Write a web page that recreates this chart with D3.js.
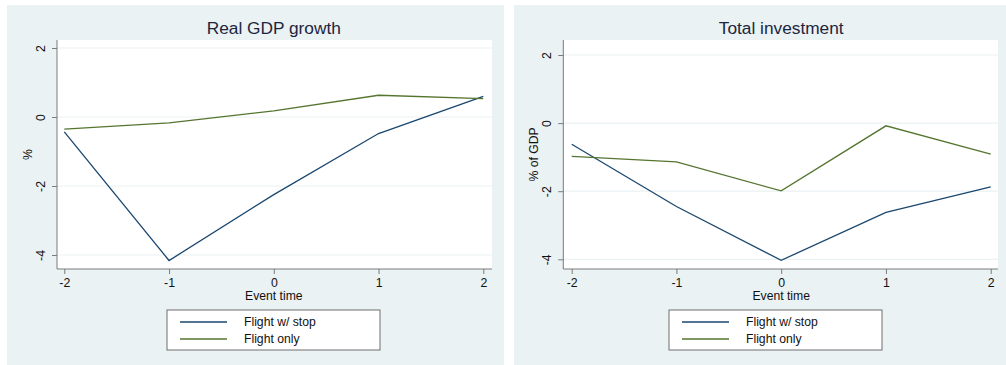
<!DOCTYPE html>
<html>
<head>
<meta charset="utf-8">
<script src="https://cdn.jsdelivr.net/npm/d3@7"></script>
<style>
  html, body { margin: 0; padding: 0; background: #ffffff; }
  svg { display: block; font-family: "Liberation Sans", Arial, sans-serif; }
</style>
</head>
<body>
<svg id="chart" width="1006" height="365"></svg>
<script>
// Event window and tick labels
const eventTime = [-2, -1, 0, 1, 2];
const yTicks = [-4, -2, 0, 2];
const seriesNames = ["Flight w/ stop", "Flight only"];

// Real GDP growth (%)
const gdpFlightStop = [-0.43, -4.16, -2.25, -0.48, 0.60];
const gdpFlightOnly = [-0.35, -0.17, 0.18, 0.63, 0.53];

// Total investment (% of GDP)
const invFlightStop = [-0.62, -2.45, -4.03, -2.62, -1.87];
const invFlightOnly = [-0.98, -1.14, -1.99, -0.08, -0.91];

const colors = ["#1a476f", "#55752f"];
const bg = "#eaf2f3";
const plain = d => String(d);   // hyphen-minus labels

const svg = d3.select("#chart");

function panel(opts) {
  const g = svg.append("g").attr("transform", `translate(${opts.left},0)`);
  const w = opts.width;

  g.append("rect").attr("x", 0).attr("y", 5).attr("width", w).attr("height", 360).attr("fill", bg);

  const pl = opts.plotLeft, pr = w - opts.plotRightPad, pt = 40, pb = 269;
  g.append("rect").attr("x", pl).attr("y", pt).attr("width", pr - pl).attr("height", pb - pt).attr("fill", "#ffffff");

  const x = d3.scaleLinear().domain([-2, 2]).range([pl + opts.xPad, pr - opts.xPadR]);
  const y = d3.scaleLinear().domain([-4, 2]).range([opts.y4, opts.y2]);

  // horizontal grid
  g.append("g").selectAll("line").data(yTicks).join("line")
    .attr("x1", pl).attr("x2", pr)
    .attr("y1", d => y(d)).attr("y2", d => y(d))
    .attr("stroke", bg).attr("stroke-width", 1.2);

  // y axis
  const ya = g.append("g").attr("transform", `translate(${pl},0)`)
    .call(d3.axisLeft(y).tickValues(yTicks).tickSize(5).tickPadding(9).tickFormat(plain));
  ya.select(".domain").attr("d", `M0,${pt}V${pb}`).attr("stroke", "#7a7a7a");
  ya.selectAll(".tick line").attr("stroke", "#7a7a7a");
  ya.selectAll(".tick text")
    .attr("font-size", 12.3).attr("fill", "#111")
    .attr("x", -16).attr("dy", 0)
    .attr("transform", "rotate(-90,-16,0)")
    .attr("text-anchor", "middle").attr("dominant-baseline", "central");

  // x axis
  const xa = g.append("g").attr("transform", `translate(0,${pb})`)
    .call(d3.axisBottom(x).tickValues(eventTime).tickSize(5).tickPadding(4).tickFormat(plain));
  xa.select(".domain").attr("d", `M${pl},0H${pr}`).attr("stroke", "#7a7a7a");
  xa.selectAll(".tick line").attr("stroke", "#7a7a7a");
  xa.selectAll(".tick text").attr("font-size", 12.3).attr("fill", "#111");

  // titles
  g.append("text").attr("x", x(0)).attr("y", 34).attr("text-anchor", "middle")
    .attr("font-size", 17.3).attr("fill", "#1c2640").text(opts.title);
  g.append("text").attr("x", x(0)).attr("y", 300).attr("text-anchor", "middle")
    .attr("font-size", 12.2).attr("fill", "#111").text("Event time");
  g.append("text").attr("transform", `translate(${opts.yTitleX},${(pt + pb) / 2}) rotate(-90)`)
    .attr("text-anchor", "middle").attr("dominant-baseline", "central")
    .attr("font-size", 12.2).attr("fill", "#111").text(opts.yTitle);

  // lines
  const line = d3.line().x((d, i) => x(eventTime[i])).y(d => y(d));
  opts.series.forEach((s, k) => {
    g.append("path").datum(s).attr("d", line)
      .attr("fill", "none").attr("stroke", colors[k]).attr("stroke-width", 1.3);
  });

  // legend
  const lx = opts.legendX, ly = 310, lw = 213, lh = 40;
  g.append("rect").attr("x", lx).attr("y", ly).attr("width", lw).attr("height", lh)
    .attr("fill", "#ffffff").attr("stroke", "#6e6e6e").attr("stroke-width", 1);
  seriesNames.forEach((name, k) => {
    const yy = ly + 12 + k * 17;
    g.append("line").attr("x1", lx + 13).attr("x2", lx + 60).attr("y1", yy).attr("y2", yy)
      .attr("stroke", colors[k]).attr("stroke-width", 1.3);
    g.append("text").attr("x", lx + 77).attr("y", yy).attr("dominant-baseline", "central")
      .attr("font-size", 12.2).attr("fill", "#111").text(name);
  });
}

panel({
  left: 7, width: 497, plotLeft: 50, plotRightPad: 12, xPad: 7.3, xPadR: 8.7,
  y2: 48, y4: 255, title: "Real GDP growth", yTitle: "%", yTitleX: 21,
  legendX: 160, series: [gdpFlightStop, gdpFlightOnly]
});

panel({
  left: 514, width: 492, plotLeft: 49.3, plotRightPad: 8, xPad: 8.4, xPadR: 7.3,
  y2: 55, y4: 259.3, title: "Total investment", yTitle: "% of GDP", yTitleX: 20,
  legendX: 155, series: [invFlightStop, invFlightOnly]
});
</script>
</body>
</html>
